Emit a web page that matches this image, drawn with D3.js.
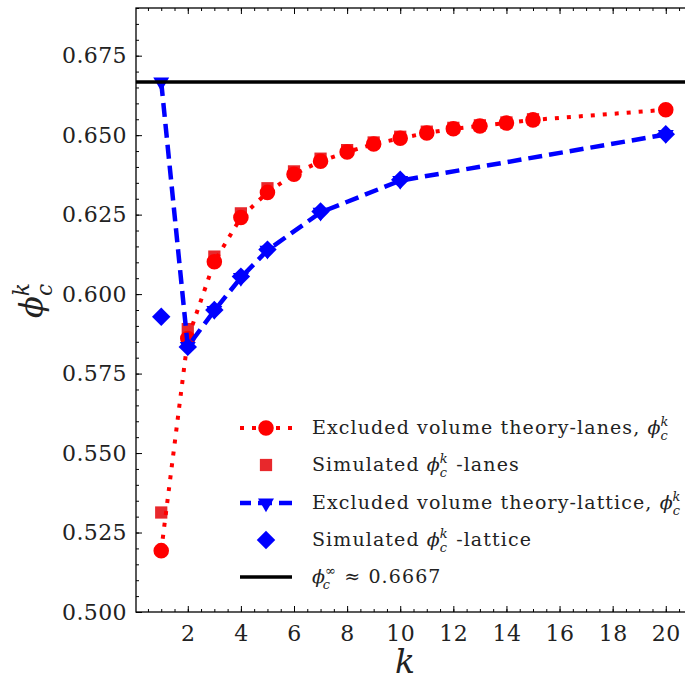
<!DOCTYPE html>
<html>
<head>
<meta charset="utf-8">
<script src="https://cdn.jsdelivr.net/npm/d3@7"></script>
<style>
  body{margin:0;background:#fff;}
  svg{display:block;}
  text{font-family:"DejaVu Serif",serif;fill:#222;}
</style>
</head>
<body>
<svg id="chart" width="685" height="681"></svg>
<script>
'use strict';

// data
var kLanes=[1,2,3,4,5,6,7,8,9,10,11,12,13,14,15,20]
  , theoryLanes=[0.5193,0.586,0.6102,0.6241,0.632,0.6377,0.6418,0.6447,0.6472,0.649,0.6507,0.652,0.6529,0.6538,0.6548,0.658]
  , kSimLanes=[1,2,3,4,5,6,7,8,9,10,11,12,13,14,15]
  , simLanes=[0.5313,0.589,0.6118,0.6254,0.6333,0.6386,0.6426,0.6453,0.6477,0.6495,0.6511,0.6523,0.6531,0.654,0.655]
  , kLattice=[1,2,3,4,5,7,10,20]
  , theoryLattice=[0.6667,0.5835,0.5948,0.6052,0.6138,0.6257,0.6357,0.6502]
  , simLattice=[0.5929,0.5834,0.595,0.6055,0.614,0.626,0.636,0.6503]
  , phiInf=0.6667
  , xTicks=[2,4,6,8,10,12,14,16,18,20]
  , yTicks=[0.5,0.525,0.55,0.575,0.6,0.625,0.65,0.675]

var svg=d3.select('#chart')
  , L=136, R=691, T=8, B=612

var x=d3.scaleLinear().domain([0.05,20.95]).range([L,R])
  , y=d3.scaleLinear().domain([0.5,0.69]).range([B,T])

var xMinor=d3.range(0.5,21,0.5)
  , yMinor=d3.range(0.5,0.6901,0.005)

// axes, ticks pointing inward on all four sides
function axis(gen,pos,ticks,size,labels){
    var g=svg.append('g')
        .attr('transform',pos)
        .call(gen.tickValues(ticks).tickSizeInner(size).tickSizeOuter(0)
            .tickFormat(labels?labels:function(){return '';}));
    g.select('.domain').remove();
    g.selectAll('line').attr('stroke','#000').attr('stroke-width',1);
    return g;
}

var xb=axis(d3.axisBottom(x),'translate(0,'+B+')',xTicks,-6,d3.format('d'));
axis(d3.axisBottom(x),'translate(0,'+B+')',xMinor,-3);
axis(d3.axisTop(x),'translate(0,'+T+')',xTicks,-6);
axis(d3.axisTop(x),'translate(0,'+T+')',xMinor,-3);
var yl=axis(d3.axisLeft(y),'translate('+L+',0)',yTicks,-6,d3.format('.3f'));
axis(d3.axisLeft(y),'translate('+L+',0)',yMinor,-3);
axis(d3.axisRight(y),'translate('+R+',0)',yTicks,-6);
axis(d3.axisRight(y),'translate('+R+',0)',yMinor,-3);

xb.selectAll('text').attr('y',13).attr('font-size',22).attr('letter-spacing',0.5)
    .attr('font-family','"DejaVu Serif",serif').attr('fill','#222');
yl.selectAll('text').attr('x',-9).attr('font-size',22).attr('letter-spacing',0.4)
    .attr('font-family','"DejaVu Serif",serif').attr('fill','#222');

svg.append('rect')
    .attr('x',L).attr('y',T)
    .attr('width',R-L).attr('height',B-T)
    .attr('fill','none').attr('stroke','#000').attr('stroke-width',1.3);

var plot=svg.append('g')

function markers(ks,vals,type,size,rot,color){
    plot.append('g')
        .selectAll('path')
        .data(d3.zip(ks,vals))
        .join('path')
        .attr('d',d3.symbol().type(type).size(size))
        .attr('transform',function(d){
            return 'translate('+x(d[0])+','+y(d[1])+') rotate('+rot+')';
        })
        .attr('fill',color);
}

function curve(ks,vals,color,width,dash){
    plot.append('path')
        .datum(d3.zip(ks,vals))
        .attr('d',d3.line().x(function(d){return x(d[0]);}).y(function(d){return y(d[1]);}))
        .attr('fill','none')
        .attr('stroke',color)
        .attr('stroke-width',width)
        .attr('stroke-dasharray',dash);
}

var red='#ff0000', sqRed='#e8282c', blue='#0000ff'

markers(kSimLanes,simLanes,d3.symbolSquare,150,0,sqRed);
curve(kLanes,theoryLanes,red,4,'4,8');
markers(kLanes,theoryLanes,d3.symbolCircle,190,0,red);
curve(kLattice,theoryLattice,blue,4.5,'14,7');
markers(kLattice,theoryLattice,d3.symbolTriangle,110,180,blue);
markers(kLattice,simLattice,d3.symbolSquare,170,45,blue);

plot.append('line')
    .attr('x1',L).attr('x2',R)
    .attr('y1',y(phiInf)).attr('y2',y(phiInf))
    .attr('stroke','#000').attr('stroke-width',3.5);

// phi with a superscript and a subscript c stacked under it
function phi(t,size,sup){
    var s=size*0.68
      , w=(sup=='k'?0.6:1.0)*s
    t.append('tspan').attr('font-style','italic').attr('letter-spacing',0).text('\u03d5');
    t.append('tspan').attr('font-style','italic').attr('font-size',s).attr('letter-spacing',0)
        .attr('dy',-size*0.42).text(sup);
    t.append('tspan').attr('font-style','italic').attr('font-size',s).attr('letter-spacing',0)
        .attr('dx',-w).attr('dy',size*0.72).text('c');
    return w-s*0.45;
}

// legend
var lg=svg.append('g')
  , rows=[428,465,503,540,577]
  , fs=19

function legText(i,before,after,sup){
    var t=lg.append('text').attr('x',312).attr('y',rows[i]+6)
        .attr('font-size',fs).attr('letter-spacing',1.1);
    if(before) t.append('tspan').text(before);
    var extra=phi(t,fs,sup||'k');
    if(after) t.append('tspan').attr('dx',Math.max(extra,0)).attr('dy',-fs*0.3).text(after);
}

lg.append('line').attr('x1',240).attr('x2',292).attr('y1',rows[0]).attr('y2',rows[0])
    .attr('stroke',red).attr('stroke-width',4).attr('stroke-dasharray','4,8');
lg.append('path').attr('d',d3.symbol().type(d3.symbolCircle).size(190)())
    .attr('transform','translate(266,'+rows[0]+')').attr('fill',red);
lg.append('path').attr('d',d3.symbol().type(d3.symbolSquare).size(150)())
    .attr('transform','translate(266,'+rows[1]+')').attr('fill',sqRed);
lg.append('line').attr('x1',240).attr('x2',292).attr('y1',rows[2]).attr('y2',rows[2])
    .attr('stroke',blue).attr('stroke-width',4.5).attr('stroke-dasharray','14,7').attr('stroke-dashoffset',3);
lg.append('path').attr('d',d3.symbol().type(d3.symbolTriangle).size(110)())
    .attr('transform','translate(266,'+rows[2]+') rotate(180)').attr('fill',blue);
lg.append('path').attr('d',d3.symbol().type(d3.symbolSquare).size(170)())
    .attr('transform','translate(266,'+rows[3]+') rotate(45)').attr('fill',blue);
lg.append('line').attr('x1',240).attr('x2',292).attr('y1',rows[4]).attr('y2',rows[4])
    .attr('stroke','#000').attr('stroke-width',3.5);

legText(0,'Excluded volume theory-lanes, ','');
legText(1,'Simulated ',' -lanes');
legText(2,'Excluded volume theory-lattice, ','');
legText(3,'Simulated ',' -lattice');
legText(4,'',' \u2248 0.6667','\u221e');

// axis titles
svg.append('text')
    .attr('x',405).attr('y',673)
    .attr('text-anchor','middle')
    .attr('font-size',33)
    .attr('font-style','italic')
    .text('k');

var yt=svg.append('text')
    .attr('transform','translate(42,318) rotate(-90)')
    .attr('font-size',32)
phi(yt,32,'k');
</script>
</body>
</html>
